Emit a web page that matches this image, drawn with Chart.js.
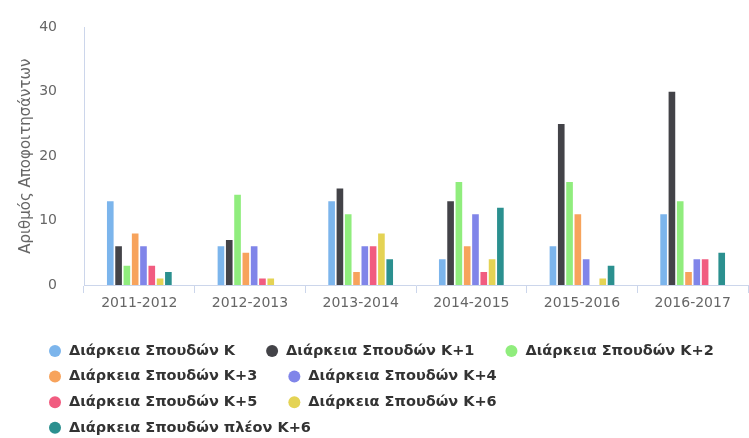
<!DOCTYPE html>
<html lang="el">
<head>
<meta charset="utf-8">
<title>Αποφοίτηση ανά διάρκεια σπουδών</title>
<script src="https://cdn.jsdelivr.net/npm/chart.js@4.4.1/dist/chart.umd.min.js"></script>
<style>
  html, body { margin: 0; padding: 0; background: #fff; }
  #wrap { width: 749px; height: 438px; position: relative; }
</style>
</head>
<body>
<div id="wrap"><canvas id="gradChart"></canvas></div>
<script>
// ─── DATA ───────────────────────────────
const seasons = ['2011-2012', '2012-2013', '2013-2014', '2014-2015', '2015-2016', '2016-2017'];

const durK     = [13, 6, 13, 4, 6, 11];
const durK1    = [6, 7, 15, 13, 25, 30];
const durK2    = [3, 14, 11, 16, 16, 13];
const durK3    = [8, 5, 2, 6, 11, 2];
const durK4    = [6, 6, 6, 11, 4, 4];
const durK5    = [3, 1, 6, 2, 0, 4];
const durK6    = [1, 1, 8, 4, 1, 0];
const durOver6 = [2, 0, 4, 12, 3, 5];

const seriesLabels = [
  'Διάρκεια Σπουδών Κ',
  'Διάρκεια Σπουδών Κ+1',
  'Διάρκεια Σπουδών Κ+2',
  'Διάρκεια Σπουδών Κ+3',
  'Διάρκεια Σπουδών Κ+4',
  'Διάρκεια Σπουδών Κ+5',
  'Διάρκεια Σπουδών Κ+6',
  'Διάρκεια Σπουδών πλέον Κ+6'
];
const seriesValues = [durK, durK1, durK2, durK3, durK4, durK5, durK6, durOver6];

const yTicks = [0, 10, 20, 30, 40];

// ─── STYLE ──────────────────────────────
const palette = ['#7cb5ec', '#434348', '#90ed7d', '#f7a35c', '#8085e9', '#f15c80', '#e4d354', '#2b908f'];
const FONT = '"DejaVu Sans", "Open Sans", sans-serif';
const AXIS_LINE = '#ccd6eb';

// legend rows (indices into the series list)
const legendRows = [[0, 1, 2], [3, 4], [5, 6], [7]];

// ─── DOT LEGEND (drawn under the plot) ──
const dotLegend = {
  id: 'dotLegend',
  afterDraw(chart) {
    const ctx = chart.ctx;
    ctx.save();
    ctx.font = 'bold 14.5px ' + FONT;
    ctx.textBaseline = 'middle';
    legendRows.forEach((row, r) => {
      let x = 49;
      const y = 351 + r * 25.6;
      row.forEach(i => {
        const ds = chart.data.datasets[i];
        ctx.fillStyle = ds.backgroundColor;
        ctx.beginPath();
        ctx.arc(x + 6, y, 6, 0, Math.PI * 2);
        ctx.fill();
        ctx.fillStyle = '#333333';
        ctx.fillText(ds.label, x + 20, y);
        x += 20 + ctx.measureText(ds.label).width + 31;
      });
    });
    ctx.restore();
  }
};

// ─── CHART ──────────────────────────────
const ctx = document.getElementById('gradChart').getContext('2d');

new Chart(ctx, {
  type: 'bar',
  data: {
    labels: seasons,
    datasets: seriesValues.map((vals, i) => ({
      label: seriesLabels[i],
      data: vals,
      backgroundColor: palette[i],
      borderWidth: 0,
      categoryPercentage: 0.6,
      barPercentage: 0.8
    }))
  },
  options: {
    responsive: true,
    maintainAspectRatio: false,
    animation: false,
    layout: { padding: { top: 26, right: 1, bottom: 123, left: 0 } },
    plugins: {
      legend: { display: false },
      tooltip: { enabled: true }
    },
    scales: {
      x: {
        grid: {
          display: true,
          drawOnChartArea: false,
          drawTicks: true,
          tickLength: 8,
          color: AXIS_LINE
        },
        border: { display: true, color: AXIS_LINE },
        ticks: { color: '#666666', font: { family: FONT, size: 14 }, padding: 2, maxRotation: 0 },
        afterFit: s => { s.height = 30; }
      },
      y: {
        min: 0,
        max: 40,
        afterBuildTicks: s => { s.ticks = yTicks.map(v => ({ value: v })); },
        grid: { display: false },
        border: { display: true, color: AXIS_LINE },
        ticks: { color: '#666666', font: { family: FONT, size: 14 }, padding: 19 },
        title: {
          display: true,
          text: 'Αριθμός Αποφοιτησάντων',
          color: '#666666',
          font: { family: FONT, size: 15 },
          padding: { top: 17, bottom: 0 }
        },
        afterFit: s => { s.width = 84; }
      }
    }
  },
  plugins: [dotLegend]
});
</script>
</body>
</html>
